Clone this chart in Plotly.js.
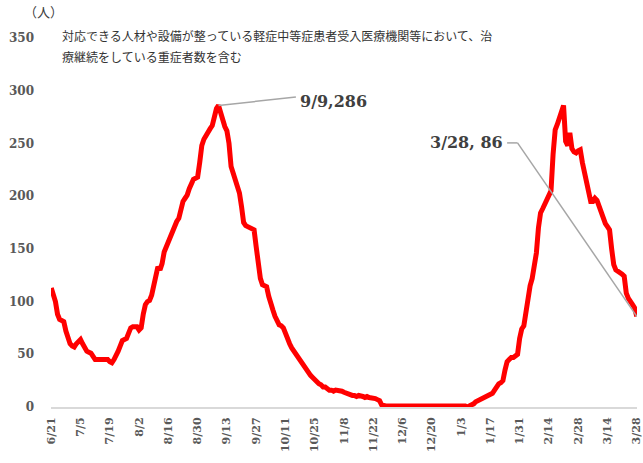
<!DOCTYPE html>
<html>
<head>
<meta charset="utf-8">
<script src="https://cdn.plot.ly/plotly-3.0.1.min.js"></script>
<style>
html,body{margin:0;padding:0;background:#fff;}
#chart{width:643px;height:463px;}
</style>
</head>
<body>
<div id="chart"></div>
<script>
// ---- data ----
const startDate = '2021-06-21';
const endDate = '2022-03-28';
const values = [
113,108,100,88,83,82,81,72,64,60,
58,57,60,63,64,60,55,53,52,51,
48,45,45,45,45,45,46,45,43,42,
45,48,53,58,63,64,65,70,75,76,
76,76,73,75,88,97,100,101,106,114,
125,133,130,136,147,152,157,160,167,173,
176,179,188,195,198,201,207,213,216,217,
218,232,248,254,258,262,264,267,275,283,
286,278,272,266,262,250,228,221,217,210,
203,190,175,172,171,171,170,168,152,135,
122,116,115,114,105,97,92,86,81,78,
77,75,70,63,60,56,53,51,48,44,
40,37,34,32,30,28,26,23,22,21,
19,19,17,16,16,15,16,16,16,15,
14,13,13,12,11,11,10,11,11,10,
9,10,9,9,8,8,7,6,2,1,
1,1,1,1,1,1,1,1,1,1,
1,1,1,1,1,1,1,1,1,1,
1,2,2,2,2,2,2,2,2,2,
2,2,2,2,2,2,2,1,1,0,
1,1,3,5,6,6,7,8,9,11,
11,13,16,20,22,23,25,35,43,45,
47,47,48,50,65,74,77,90,108,115,
122,136,146,170,184,188,192,195,200,205,
240,263,268,275,283,286,252,248,260,245,
242,241,243,244,232,222,216,205,195,195,
198,196,190,186,177,174,171,168,150,135,
130,129,128,126,124,108,103,99,97,94,
86
];
const yTicks = [0,50,100,150,200,250,300,350];
const unitLabel = '（人）';
const noteLine1 = '対応できる人材や設備が整っている軽症中等症患者受入医療機関等において、治';
const noteLine2 = '療継続をしている重症者数を含む';
const peakLabel = '9/9,286';
const lastLabel = '3/28, 86';

// build dates from start
const dates = [];
(function(){
  const d0 = new Date(startDate + 'T00:00:00Z');
  for (let i = 0; i < values.length; i++) {
    const d = new Date(d0.getTime() + i * 86400000);
    dates.push(d.toISOString().slice(0,10));
  }
})();

const peakIdx = values.indexOf(Math.max(...values.slice(0,150)));
const lastIdx = values.length - 1;

const serif = 'DejaVu Serif, Liberation Serif, serif';
const jp = 'Noto Sans CJK JP, sans-serif';

const trace = {
  x: dates, y: values, type: 'scatter', mode: 'lines',
  line: {color: '#ff0000', width: 5, shape: 'linear'},
  hoverinfo: 'skip', cliponaxis: false
};

const layout = {
  width: 643, height: 463,
  margin: {l: 51, r: 6, t: 38, b: 56},
  paper_bgcolor: '#ffffff', plot_bgcolor: '#ffffff',
  showlegend: false,
  xaxis: {
    type: 'date',
    range: ['2021-06-20 21:00', '2022-03-28 03:00'],
    tick0: startDate, dtick: 14 * 86400000,
    tickformat: '%-m/%-d',
    tickangle: -90,
    ticklabeloverflow: 'allow',
    tickfont: {family: serif, size: 11, color: '#595959', weight: 'bold'},
    showgrid: false, zeroline: false,
    showline: true, linecolor: '#d9d9d9', linewidth: 2,
    ticks: '', ticklabelstandoff: 4
  },
  yaxis: {
    range: [0, 350],
    tickvals: yTicks,
    tickfont: {family: serif, size: 12, color: '#595959', weight: 'bold'},
    showgrid: false, zeroline: false, showline: false,
    ticks: '', ticklabelstandoff: 16
  },
  shapes: [
    {type: 'line', xref: 'x', yref: 'y',
     x0: dates[peakIdx], y0: values[peakIdx], x1: dates[117], y1: 294,
     line: {color: '#a6a6a6', width: 1.5}},
    {type: 'line', xref: 'x', yref: 'y',
     x0: dates[218], y0: 250.5, x1: dates[223], y1: 250.5,
     line: {color: '#a6a6a6', width: 1.5}},
    {type: 'line', xref: 'x', yref: 'y',
     x0: dates[223], y0: 250.5, x1: dates[lastIdx], y1: values[lastIdx],
     line: {color: '#a6a6a6', width: 1.5}}
  ],
  annotations: [
    {xref: 'paper', yref: 'paper', x: -0.013, y: 1.072, text: unitLabel,
     showarrow: false, xanchor: 'center', yanchor: 'middle',
     font: {family: jp, size: 13, color: '#404040'}},
    {xref: 'paper', yref: 'paper', x: 0.015, y: 1.008, text: noteLine1,
     showarrow: false, xanchor: 'left', yanchor: 'middle',
     font: {family: jp, size: 12, color: '#333333'}},
    {xref: 'paper', yref: 'paper', x: 0.015, y: 0.949, text: noteLine2,
     showarrow: false, xanchor: 'left', yanchor: 'middle',
     font: {family: jp, size: 12, color: '#333333'}},
    {xref: 'x', yref: 'y', x: dates[118], y: 290, text: peakLabel,
     showarrow: false, xanchor: 'left', yanchor: 'middle',
     font: {family: serif, size: 16, color: '#404040', weight: 'bold'}},
    {xref: 'x', yref: 'y', x: dates[217], y: 250.5, text: lastLabel,
     showarrow: false, xanchor: 'right', yanchor: 'middle',
     font: {family: serif, size: 16, color: '#404040', weight: 'bold'}}
  ]
};

Plotly.newPlot('chart', [trace], layout, {displayModeBar: false, staticPlot: true});
</script>
</body>
</html>
